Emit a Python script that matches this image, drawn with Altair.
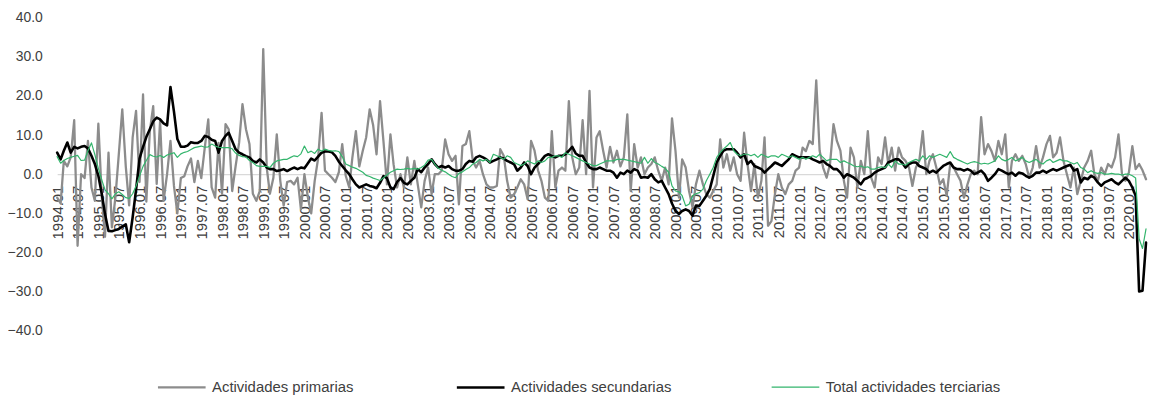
import altair as alt
import pandas as pd

# Series names, colours and stroke widths
series_names = ["Actividades primarias", "Actividades secundarias", "Total actividades terciarias"]
series_colors = ["#8c8c8c", "#000000", "#33b56c"]
series_widths = [2.3, 2.6, 1.2]

# Monthly annual variation (%), 1994.01 - 2020.06 (318 months)
primarias = (
    # 1994.01 - 1997.04
    [-6.0, -7.5, 3.4, 2.0, 4.3, 13.8, -18.3, 0.0, -1.0, 8.5, -3.4, -6.8, 12.9, -6.0, -16.0, 5.5, -13.6, -6.0, 5.0, 16.6,
     2.0, -8.0, 9.4, 16.2, -2.0, 20.4, -7.0, 11.0, 17.4, -2.5, 13.6, -6.8, 0.0, 8.5, -3.0, -10.0, -1.0, -0.5, 2.0, 4.0]
    # 1997.05 - 2000.09
    + [-2.0, 3.4, -1.0, 6.8, 14.0, -3.4, -6.0, 8.0, -5.0, 12.8, 11.5, -4.3, 2.0, 8.0, 17.9, 11.5, 7.7, -5.0, -6.8, -4.3,
       32.0, 1.7, -5.0, -0.9, 10.2, -1.7, -8.0, -2.0, -1.7, -2.6, -0.9, -9.0, 0.0, -6.0, -10.0, -1.7, 4.0, 15.7, 0.9, 0.0, -0.9]
    # 2000.10 - 2004.01
    + [-2.0, 0.5, 7.7, -0.4, -3.4, 4.3, 11.0, 2.0, 6.0, 9.4, 16.6, 12.5, 5.1, 18.7, 8.5, -2.6, 10.2, 2.5, -3.4, 0.0,
       -3.4, 4.3, -2.6, 3.4, -2.6, -8.5, -1.7, 1.7, -5.1, 0.0, 0.0, 0.9, 8.9, 5.1, 3.4, 4.7, -7.7, 7.2, 7.7, 11.0]
    # 2004.02 - 2007.05
    + [3.4, 1.7, 3.4, 0.0, -2.6, -3.4, -3.4, -3.0, 6.4, 4.7, -1.7, -6.0, -5.1, -3.4, -1.3, -2.6, -6.4, 8.5, 6.0, 1.0,
       -1.7, -6.0, -6.8, 11.0, -3.4, 0.9, 1.7, 0.9, 18.7, 4.3, 0.0, 1.7, 13.8, 0.0, 21.3, -3.4, 9.4, 11.0, 6.0, 1.7]
    # 2007.06 - 2010.09
    + [7.0, 3.0, 6.0, 2.0, 4.3, 15.3, -4.3, 7.7, 1.7, 4.3, 0.0, 1.7, 2.6, 4.3, 0.9, -1.7, 1.7, -2.6, 14.3, 5.9,
       -6.0, 3.8, 1.7, -4.3, -8.5, -2.6, 0.9, -2.6, -5.1, -6.0, -4.3, -2.6, 8.9, 1.7, 5.1, 0.9, 4.3, 0.0, -1.7, 10.6]
    # 2010.10 - 2014.01
    + [2.6, -4.3, 2.6, -6.0, -1.7, 9.4, -13.2, -12.0, -5.1, 0.0, -3.4, -5.1, -2.6, -1.7, 0.9, 1.7, 6.8, 5.9, 8.5, 7.7,
       24.0, 6.0, 1.7, -0.9, 2.6, 12.8, 8.5, 6.0, -1.7, -6.0, 6.8, 4.3, -3.4, 3.4, 0.0, 11.0, -0.9, -3.4, 4.3, 2.6]
    # 2014.02 - 2017.06
    + [9.4, 2.6, 6.8, 0.9, 6.8, 4.3, 3.4, 1.7, -3.0, 1.7, 3.4, 11.0, 0.0, 3.4, 5.1, 1.7, -2.6, -1.3, -5.5, 2.6,
       1.7, 0.0, -1.7, -6.0, -2.6, 0.0, 0.9, 0.0, 14.6, 5.1, 7.7, 5.9, 3.4, 8.5, 5.1, 10.2, -3.4, 3.4, 5.1, 3.4, 4.7]
    # 2017.07 - 2020.06
    + [2.6, -0.9, 1.7, 7.2, 1.7, 4.3, 7.7, 9.8, 4.3, 5.5, 9.4, 3.4, 0.0, -3.4, 1.7, -5.1, -1.7, 1.7, 3.4, 6.0,
       0.0, -1.7, 1.7, 0.0, 2.6, 1.7, 4.3, 10.2, 0.0, -1.7, 0.4, 7.2, 1.3, 2.6, 1.0, -1.3]
)

secundarias = (
    [5.5, 3.8, 6.0, 8.1, 5.5, 7.0, 6.6, 7.0, 7.2, 6.6, 4.7, 2.6, -0.4, -5.1, -10.2, -14.5, -14.6, -14.3, -14.0, -13.4,
     -12.8, -17.4, -11.0, -4.0, 4.0, 7.0, 9.5, 11.5, 13.5, 14.5, 14.0, 13.0, 12.5, 22.3, 16.0, 9.0, 7.0, 7.0, 7.3, 8.2]
    + [8.0, 8.0, 8.5, 9.8, 9.5, 8.8, 8.5, 5.5, 8.5, 9.8, 10.6, 8.5, 6.4, 5.5, 5.1, 4.6, 4.3, 3.4, 3.0, 3.8,
       3.0, 1.7, 1.3, 1.3, 0.8, 1.0, 1.3, 0.8, 1.3, 1.7, 1.3, 1.7, 1.5, 2.8, 4.0, 3.5, 4.5, 5.5, 5.8, 5.8, 5.6]
    + [4.7, 3.2, 2.1, 1.0, 0.0, -1.3, -2.6, -3.4, -3.0, -2.6, -3.0, -3.2, -3.6, -2.2, -0.5, -1.0, -3.4, -3.8, -2.0, -1.0,
       -2.2, -2.6, -1.7, -0.9, 1.3, 0.5, 1.7, 2.6, 3.8, 2.6, 1.7, 2.1, 1.7, 2.1, 1.3, 0.9, 0.9, 1.3, 2.6, 3.4]
    + [3.2, 4.3, 4.7, 4.3, 3.8, 3.0, 3.4, 3.8, 4.3, 4.0, 3.4, 3.0, 2.5, 0.9, 1.7, 3.0, 2.1, 0.0, 1.7, 2.6,
       3.6, 4.7, 5.1, 4.7, 4.3, 4.7, 4.7, 5.1, 6.0, 7.0, 5.3, 4.7, 4.7, 3.0, 1.7, 1.3, 1.3, 1.7, 1.3, 0.9]
    + [0.9, 0.4, -0.9, 0.4, 0.0, 0.9, 0.4, 1.3, 0.9, -0.9, -0.7, -0.9, 0.0, -1.3, -2.1, -1.7, -3.4, -5.1, -7.5, -9.4,
       -10.2, -9.4, -9.0, -9.4, -10.6, -8.0, -8.1, -6.8, -5.5, -3.8, -0.5, 3.0, 4.7, 6.0, 6.4, 6.4, 6.4, 5.5, 4.3, 5.1]
    + [2.6, 3.4, 2.1, 1.7, 1.3, 0.4, 1.3, 2.1, 3.0, 2.6, 2.1, 3.0, 3.8, 5.1, 4.7, 4.3, 4.3, 4.3, 4.3, 3.8,
       3.4, 3.0, 3.4, 2.6, 2.1, 1.3, 1.3, 0.4, -0.9, 0.0, -0.4, -0.9, -1.7, -2.6, -1.3, -0.9, -0.4, 0.4, 0.9, 1.3]
    + [1.7, 3.0, 3.4, 3.8, 3.8, 3.0, 1.7, 2.6, 3.0, 3.0, 2.1, 1.7, 1.3, 0.4, 0.9, 0.4, 1.3, 2.1, 2.6, 3.0,
       1.7, 1.3, 1.3, 0.9, 1.3, 0.9, 0.0, 0.4, 0.9, 0.0, -1.7, -0.9, 0.0, 1.3, 0.9, 0.4, 0.0, 0.4, -0.4, 0.4, 0.2]
    + [-0.4, -0.9, -0.4, 0.4, 0.4, 0.9, 0.4, 0.9, 1.3, 0.9, 1.3, 1.7, 2.1, 2.4, 0.9, 1.3, -2.1, -0.9, -1.3, -0.4,
       -0.9, -2.1, -3.0, -2.1, -1.7, -1.3, -2.1, -2.6, -1.7, -0.9, -1.7, -3.4, -5.5, -30.0, -29.8, -17.5]
)

terciarias = (
    [4.5, 2.8, 3.5, 4.0, 4.3, 4.6, 4.8, 3.5, 3.6, 6.0, 8.0, 5.0, 1.5, -1.5, -4.0, -5.0, -6.3, -5.0, -4.5, -5.2,
     -6.0, -6.2, -5.0, -3.0, -0.5, 2.0, 3.5, 5.0, 4.6, 4.4, 4.8, 4.3, 4.9, 5.2, 5.5, 4.3, 5.2, 5.6, 5.8, 6.3]
    + [6.8, 7.0, 7.2, 6.9, 7.0, 7.7, 7.2, 6.9, 6.8, 6.8, 6.8, 6.5, 5.4, 4.8, 4.5, 4.4, 3.5, 3.0, 2.2, 2.0,
       2.0, 2.0, 1.7, 2.8, 3.4, 3.6, 3.8, 3.8, 4.3, 4.7, 4.5, 5.2, 7.2, 5.5, 5.9, 5.3, 6.4, 5.9, 6.4, 6.1, 5.9]
    + [6.0, 5.8, 4.5, 2.6, 2.2, 1.8, 1.5, 1.0, 0.5, -0.3, -0.6, -1.0, -1.3, -1.6, -0.9, -0.2, 0.5, 0.9, 1.3, 1.2,
       1.3, 1.5, 1.3, 1.5, 1.3, 1.7, 2.3, 3.6, 3.8, 2.6, 1.5, 1.0, 0.6, 0.0, -0.6, -0.9, 0.2, 0.6, 1.2, 1.7]
    + [2.6, 3.0, 3.8, 3.4, 3.8, 3.0, 5.1, 4.7, 4.3, 3.8, 4.7, 4.3, 3.0, 2.6, 2.2, 2.6, 3.4, 3.0, 2.6, 3.4,
       3.0, 3.4, 4.3, 4.3, 4.7, 4.7, 4.3, 5.5, 5.1, 4.7, 4.3, 3.8, 3.4, 3.0, 2.6, 2.2, 2.2, 2.6, 3.0, 3.4]
    + [3.4, 3.4, 3.8, 3.8, 3.8, 3.6, 3.4, 3.2, 3.0, 2.8, 4.3, 2.8, 4.0, 3.0, 2.6, 2.0, 1.5, 0.5, -3.0, -4.3,
       -4.5, -5.5, -8.1, -7.7, -5.5, -5.0, -4.7, -3.8, -1.7, 0.0, 1.7, 4.3, 5.5, 6.4, 7.2, 8.1, 6.0, 5.1, 4.7, 5.1]
    + [5.1, 4.7, 5.1, 4.3, 5.1, 4.7, 4.3, 4.7, 4.7, 4.3, 5.1, 4.7, 4.3, 4.7, 4.3, 3.8, 4.3, 3.8, 4.3, 4.7,
       4.3, 5.1, 4.3, 3.4, 3.8, 3.8, 3.8, 3.0, 3.4, 3.0, 2.6, 2.1, 1.9, 2.1, 1.7, 1.9, 1.3, 1.3, 1.7, 1.9]
    + [1.7, 2.6, 1.7, 3.4, 2.6, 2.6, 2.3, 3.0, 3.4, 3.8, 3.4, 4.7, 3.8, 4.7, 4.3, 4.7, 5.1, 4.7, 4.3, 5.8,
       4.3, 3.8, 3.4, 3.0, 2.6, 3.0, 3.2, 3.0, 2.6, 2.8, 2.6, 3.0, 3.4, 4.7, 3.8, 3.4, 3.8, 4.3, 3.4, 3.8, 4.3]
    + [3.4, 3.0, 3.4, 3.8, 3.0, 2.6, 3.4, 3.8, 3.0, 3.4, 3.8, 3.4, 3.4, 3.0, 2.6, 3.0, 1.7, 1.3, 0.4, 0.9,
       0.4, 0.2, 0.4, 0.0, 0.0, 0.2, 0.0, 0.0, -0.2, 0.0, 0.0, -0.4, -1.0, -16.5, -19.0, -14.0]
)

# Month categories 1994.01 ... 2020.06
n_months = len(secundarias)
fechas = [f"{1994 + k // 12}-{k % 12 + 1:02d}-01T00:00:00" for k in range(n_months)]

# Axis tick labels: every six months, 1994.01 ... 2020.01
tick_dates = [alt.DateTime(year=1994 + k // 2, month=1 + 6 * (k % 2), date=1) for k in range(53)]
y_ticks = [-40, -30, -20, -10, 0, 10, 20, 30, 40]

rows = []
for name, vals in zip(series_names, [primarias, secundarias, terciarias]):
    for f, v in zip(fechas, vals):
        rows.append({"fecha": f, "valor": v, "serie": name})
df = pd.DataFrame(rows)

FONT = "Liberation Sans"
TXT = "#404040"

legend = alt.Legend(
    title=None,
    orient="none",
    legendX=100,
    legendY=346.5,
    direction="horizontal",
    columns=3,
    symbolType="stroke",
    symbolSize=2304,
    columnPadding=98,
    labelOffset=5,
    labelFontSize=15,
    labelFont=FONT,
    labelColor=TXT,
    labelLimit=400,
    padding=0,
)

chart = (
    alt.Chart(df)
    .mark_line(strokeJoin="round", strokeCap="round")
    .encode(
        x=alt.X(
            "fecha:T",
            scale=alt.Scale(
                domain=[alt.DateTime(year=1994, month=1, date=1), alt.DateTime(year=2020, month=6, date=1)],
                nice=False,
            ),
            axis=alt.Axis(
                title=None,
                values=tick_dates,
                format="%Y.%m",
                labelAngle=-90,
                labelOverlap=False,
                labelFlush=False,
                labelFontSize=15,
                labelFont=FONT,
                labelColor=TXT,
                labelPadding=11,
                ticks=False,
                grid=False,
                domainColor="#d9d9d9",
                domainWidth=1.2,
                offset=-157.5,
            ),
        ),
        y=alt.Y(
            "valor:Q",
            scale=alt.Scale(domain=[-40, 40], nice=False),
            axis=alt.Axis(
                title=None,
                values=y_ticks,
                format=".1f",
                labelFontSize=14,
                labelFont=FONT,
                labelColor=TXT,
                labelPadding=15,
                ticks=False,
                domain=False,
                grid=False,
            ),
        ),
        color=alt.Color("serie:N", scale=alt.Scale(domain=series_names, range=series_colors), legend=legend),
        strokeWidth=alt.StrokeWidth(
            "serie:N",
            scale=alt.Scale(type="ordinal", domain=series_names, range=series_widths),
            legend=legend,
        ),
    )
    .properties(
        width=1096.5,
        height=315,
        autosize=alt.AutoSizeParams(type="none"),
        padding={"left": 49.5, "top": 8.5, "right": 2, "bottom": 65.5},
        background="white",
    )
    .configure_view(stroke=None)
)

chart.save("out.html", embed_options={"renderer": "svg", "actions": False})
